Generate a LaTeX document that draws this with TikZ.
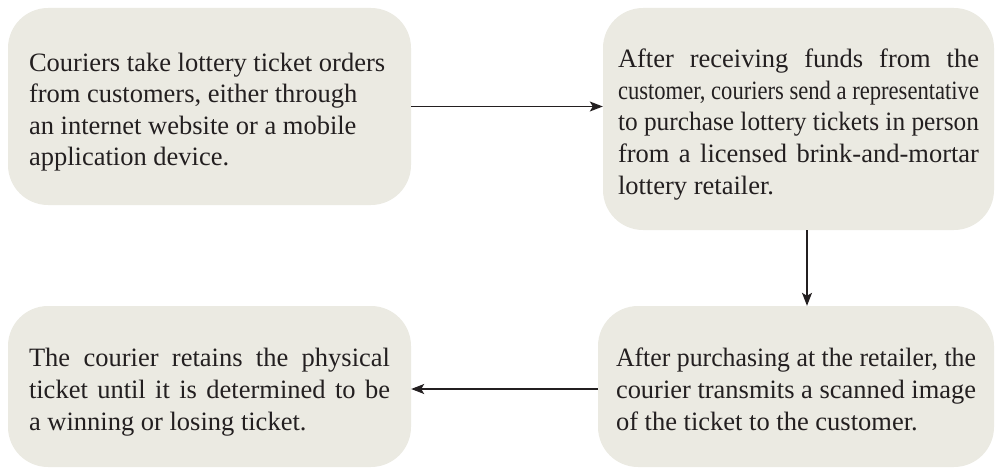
\documentclass[tikz,border=0pt]{standalone}
\usepackage{fontspec}
\setmainfont{Liberation Serif}
\usepackage{graphicx}
\usetikzlibrary{arrows.meta,calc}
\definecolor{boxfill}{HTML}{EBEAE2}
\definecolor{ink}{HTML}{231F20}
\newsavebox\jlbox
\newcommand{\jl}[1]{\sbox\jlbox{#1}\ifdim\wd\jlbox>\linewidth\resizebox{\linewidth}{\height}{#1}\else\makebox[\linewidth][s]{#1}\fi}
\newcommand{\topst}{\spaceskip=0pt\xspaceskip=0pt\rule{0pt}{32pt}}
\newcommand{\botst}{\rule[-8pt]{0pt}{8pt}}
\begin{document}
\begin{tikzpicture}[x=1pt,y=1pt,
  card/.style={rectangle, rounded corners=40pt, fill=boxfill, draw=none, inner sep=0pt,
    text width=361pt, align=left, text=ink, font=\fontsize{26.5pt}{31.6pt}\selectfont},
  flow/.style={draw=ink, line width=1.2pt, -{Stealth[length=13pt,width=10pt,inset=3pt]}}]
\useasboundingbox (0,0) rectangle (995,-468);
\node[card, minimum width=403pt, minimum height=197pt] (b1) at (209.5,-106.5)
  {\topst\mbox{Couriers take lottery ticket orders}\\
   \mbox{from customers, either through}\\
   \mbox{an internet website or a mobile}\\
   application device.\botst};
\node[card, minimum width=391pt, minimum height=222pt] (b2) at (798.5,-119)
  {\topst\jl{After receiving funds from the}\\
   \jl{customer, couriers send a representative}\\
   \jl{to purchase lottery tickets in person}\\
   \jl{from a licensed brink-and-mortar}\\
   lottery retailer.\botst};
\node[card, minimum width=403pt, minimum height=161pt] (b3) at (209.5,-386.5)
  {\topst\jl{The courier retains the physical}\\
   \jl{ticket until it is determined to be}\\
   a winning or losing ticket.\botst};
\node[card, text width=360pt, minimum width=396pt, minimum height=161pt] (b4) at (796,-386.5)
  {\topst\jl{After purchasing at the retailer, the}\\
   \jl{courier transmits a scanned image}\\
   of the ticket to the customer.\botst};
\coordinate (a2) at ($(b2.south)+(8.5,0)$);
\coordinate (a3) at ($(b4.west)+(0,-2.5)$);
\draw[flow] (b1.east) -- (b1.east -| b2.west);
\draw[flow] (a2) -- (a2 |- b4.north);
\draw[flow] (a3) -- (a3 -| b3.east);
\end{tikzpicture}
\end{document}
